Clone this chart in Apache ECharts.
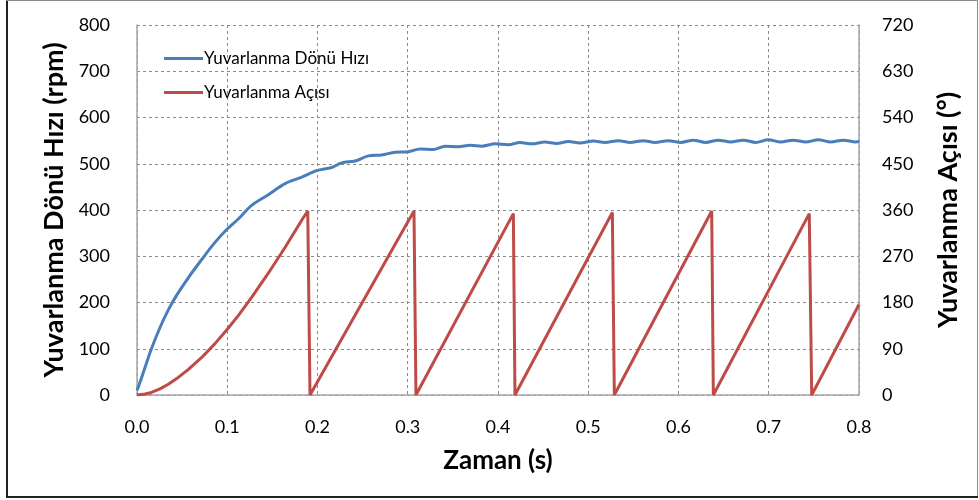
<!DOCTYPE html>
<html>
<head>
<meta charset="utf-8">
<script src="https://cdn.jsdelivr.net/npm/echarts@6/dist/echarts.min.js"></script>
<style>
html,body{margin:0;padding:0;background:#fff;}
#c{width:979px;height:500px;}
</style>
</head>
<body>
<div id="c"></div>
<script>
// Time ticks (s)
const xTicks = [0.0, 0.1, 0.2, 0.3, 0.4, 0.5, 0.6, 0.7, 0.8];
const leftTicks = [0, 100, 200, 300, 400, 500, 600, 700, 800];
const rightTicks = [0, 90, 180, 270, 360, 450, 540, 630, 720];

// Yuvarlanma Dönü Hızı (rpm)
const speedTime = [0.000, 0.005, 0.010, 0.016, 0.0255, 0.0347, 0.044, 0.057, 0.0717, 0.0864, 0.1005, 0.112, 0.127, 0.1455, 0.164, 0.1825, 0.199, 0.2157, 0.2268, 0.2416, 0.2563, 0.2711, 0.2859, 0.3006, 0.3136, 0.3283, 0.3413, 0.356, 0.369, 0.382, 0.397, 0.4114, 0.4244, 0.4374, 0.452, 0.465, 0.478, 0.491, 0.5056, 0.5186, 0.5334, 0.5463, 0.561, 0.574, 0.5887, 0.6025, 0.6164, 0.6302, 0.6441, 0.6579, 0.6718, 0.6856, 0.6995, 0.7133, 0.7272, 0.741, 0.7549, 0.7687, 0.7826, 0.7964, 0.800];
const speedRpm = [10, 37, 66, 100, 146, 184, 216, 254, 293, 330, 360, 380, 410, 433, 457, 471, 485, 492, 502, 506, 517, 519, 525, 526, 532, 531, 538, 537, 540, 538, 543, 541, 546, 543, 547, 544, 548, 545, 549, 546, 550, 546, 550, 546, 550, 546, 551, 546, 551, 547, 551, 546, 552, 547, 551, 547, 552, 547, 551, 547, 548];

// Yuvarlanma Açısı (°)
const angleTime = [0.000, 0.009, 0.016, 0.0255, 0.0347, 0.044, 0.057, 0.0717, 0.0864, 0.1005, 0.112, 0.127, 0.1455, 0.164, 0.1825, 0.1892, 0.1917, 0.3069, 0.3091, 0.417, 0.4188, 0.5267, 0.5289, 0.6368, 0.6386, 0.7449, 0.7476, 0.800];
const angleDeg = [0, 2, 5, 12, 21, 32, 50, 73, 100, 129, 154, 190, 237, 287, 340, 358, 0, 358, 0, 353, 0, 355, 0, 358, 0, 353, 0, 176];

const seriesNames = ['Yuvarlanma Dönü Hızı', 'Yuvarlanma Açısı'];
const colors = ['#4A7EBB', '#BE4B48'];

const speedData = speedTime.map((t, i) => [t, speedRpm[i]]);
const angleData = angleTime.map((t, i) => [t, angleDeg[i]]);

const font = 'Lato, "Open Sans", sans-serif';
const gridLine = {show: true, lineStyle: {color: '#8a8a8a', type: [3, 3], width: 1}};
const axisLine = {show: true, lineStyle: {color: '#a6a6a6', width: 1.5}};
const titleStyle = {fontFamily: font, fontSize: 27, fontWeight: 'bold', color: '#000'};

const chart = echarts.init(document.getElementById('c'), null, {renderer: 'canvas'});
chart.setOption({
  animation: false,
  backgroundColor: '#ffffff',
  color: colors,
  grid: {left: 137, right: 120, top: 25, bottom: 105, containLabel: false},
  legend: {
    orient: 'vertical',
    left: 159, top: 45,
    itemWidth: 39, itemHeight: 3, itemGap: 17,
    icon: 'rect',
    textStyle: {fontFamily: font, fontSize: 17, color: '#000', padding: [0, 0, 0, -4]},
    data: seriesNames
  },
  xAxis: {
    type: 'value', min: 0, max: 0.8, interval: 0.1,
    name: 'Zaman (s)', nameLocation: 'middle', nameGap: 53,
    nameTextStyle: Object.assign({}, titleStyle, {fontSize: 26}),
    axisLine: axisLine, axisTick: {show: false},
    axisLabel: {margin: 23, fontFamily: font, fontSize: 18, color: '#000', formatter: v => v.toFixed(1)},
    splitLine: gridLine
  },
  yAxis: [{
    type: 'value', min: leftTicks[0], max: leftTicks[leftTicks.length - 1], interval: 100,
    name: 'Yuvarlanma Dönü Hızı (rpm)', nameLocation: 'middle', nameGap: 68, nameRotate: 90,
    nameTextStyle: titleStyle,
    axisLine: axisLine, axisTick: {show: false},
    axisLabel: {margin: 27, fontFamily: font, fontSize: 18, color: '#000'},
    splitLine: gridLine
  }, {
    type: 'value', min: rightTicks[0], max: rightTicks[rightTicks.length - 1], interval: 90,
    position: 'right',
    name: 'Yuvarlanma Açısı (°)', nameLocation: 'middle', nameGap: 76, nameRotate: 90,
    nameTextStyle: titleStyle,
    axisLine: axisLine, axisTick: {show: false},
    axisLabel: {margin: 23, fontFamily: font, fontSize: 18, color: '#000'},
    splitLine: {show: false}
  }],
  series: [{
    name: seriesNames[0], type: 'line', yAxisIndex: 0, data: speedData,
    showSymbol: false, symbol: 'none', smooth: 0.3,
    lineStyle: {color: colors[0], width: 3}, z: 3
  }, {
    name: seriesNames[1], type: 'line', yAxisIndex: 1, data: angleData,
    showSymbol: false, symbol: 'none',
    lineStyle: {color: colors[1], width: 3}, z: 2
  }],
  graphic: [{
    type: 'rect', silent: true,
    shape: {x: 6.5, y: 0.5, width: 971, height: 497},
    style: {fill: 'none', stroke: '#8c8c8c', lineWidth: 1}
  }, {
    type: 'polyline', silent: true,
    shape: {points: [[7, 1], [7, 497], [978, 497]]},
    style: {fill: 'none', stroke: '#222', lineWidth: 2}
  }]
});
</script>
</body>
</html>
